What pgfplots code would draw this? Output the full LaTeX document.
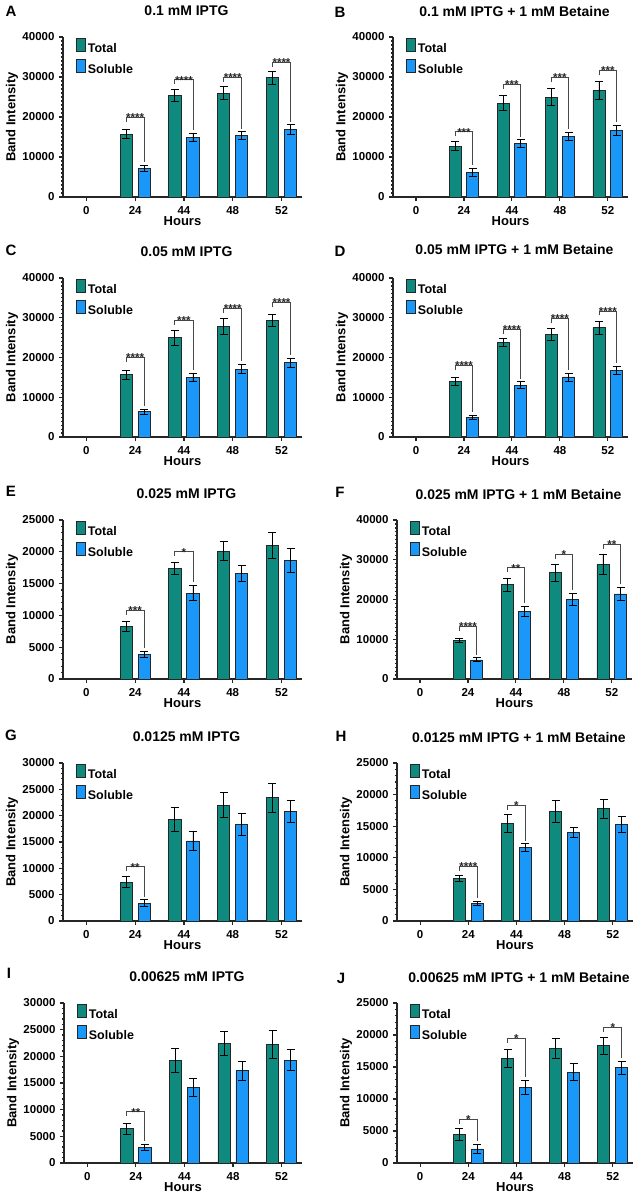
\documentclass[border=0pt]{standalone}
\usepackage{fontspec}
\setmainfont{Liberation Sans}
\usepackage{pgfplots}
\usepackage{pgfplotstable}
\pgfplotsset{compat=1.18}
\definecolor{cT}{RGB}{15,138,126}
\definecolor{cS}{RGB}{26,152,250}

\pgfplotsset{
 panel/.style={
  scale only axis, anchor=south west, clip=false,
  xmin=-0.48, xmax=4.42, ymin=0,
  axis lines=left,
  axis line style={-, line width=1.1pt, black!85},
  tick style={line width=1.1pt, black!85},
  tick align=outside, major tick length=4pt, minor tick length=2.2pt,
  xtick={0,1,2,3,4}, xticklabels={0,24,44,48,52},
  scaled y ticks=false,
  /pgf/number format/1000 sep={},
  /pgf/number format/assume math mode=true,
  ticklabel style={font=\fontsize{11.5}{12}\selectfont\bfseries},
  xticklabel shift=2pt, yticklabel shift=1pt,
  xlabel={Hours}, ylabel={Band Intensity},
  label style={font=\fontsize{13}{14}\selectfont\bfseries},
  xlabel style={at={([yshift=-24pt]axis description cs:0.5,0)}, anchor=center},
  ylabel style={at={([xshift=-51pt]axis description cs:0,0.5)}, anchor=center},
  title style={at={([xshift=4pt,yshift=20pt]axis description cs:0.5,1)}, anchor=center, font=\fontsize{14}{15}\selectfont\bfseries},
  legend style={at={([xshift=13pt,yshift=-1pt]axis description cs:0,1)}, anchor=north west,
    draw=none, fill=none, inner sep=0pt, row sep=3pt,
    font=\fontsize{12.5}{12.5}\selectfont\bfseries,
    nodes={inner sep=1.8pt}},
  legend cell align=left,
 },
 leg/.style={legend image code/.code={\draw[##1,draw=black!85,line width=0.8pt] (0pt,-2.3pt) rectangle (9pt,10.3pt);}},
 errs/.style={error bars/.cd, y dir=both, y explicit,
   error bar style={line width=0.9pt,black},
   error mark options={rotate=90,mark size=4pt,line width=0.9pt,black}},
 y40/.style={ymax=40000, ytick={0,10000,...,40000}, minor y tick num=9},
 y30/.style={ymax=30000, ytick={0,5000,...,30000}, minor y tick num=4},
 y25/.style={ymax=25000, ytick={0,5000,...,25000}, minor y tick num=4},
}

% bars: Total drawn at column xT, Soluble at column xS (category index -/+ 0.185)
\newcommand{\bars}[1]{%
 \addplot[ybar, bar width=0.25, bar shift=0pt, fill=cT, draw=black!85, line width=0.8pt, leg, errs] table[x=xT,y=T,y error=Te]{#1};
 \addlegendentry{Total}
 \addplot[ybar, bar width=0.25, bar shift=0pt, fill=cS, draw=black!85, line width=0.8pt, leg, errs] table[x=xS,y=S,y error=Se]{#1};
 \addlegendentry{Soluble}
}
% #1 left x, #2 right x, #3 bracket height, #4 right leg end, #5 stars
\newcommand{\sig}[5]{%
 \draw[line width=0.9pt, black!72] ([yshift=-4.5pt]axis cs:#1,#3) -- (axis cs:#1,#3)
   -- node[midway, anchor=base, yshift=-4.3pt, inner sep=0pt, text=black!85, font=\fontsize{11.5}{11.5}\selectfont\bfseries] {#5}
   (axis cs:#2,#3) -- (axis cs:#2,#4);
}

\pgfplotstableread{
hours xT xS T Te S Se
24 0.815 1.185 15700 1100 7200 700
44 1.815 2.185 25300 1500 14900 1000
48 2.815 3.185 26000 1600 15400 900
52 3.815 4.185 29800 1600 16900 1150
}\tA
\pgfplotstableread{
hours xT xS T Te S Se
24 0.815 1.185 12750 1100 6200 1000
44 1.815 2.185 23500 1900 13300 1000
48 2.815 3.185 25000 2100 15150 1000
52 3.815 4.185 26700 2200 16700 1250
}\tB
\pgfplotstableread{
hours xT xS T Te S Se
24 0.815 1.185 15700 1150 6400 650
44 1.815 2.185 25000 1900 15000 1100
48 2.815 3.185 27900 2000 17100 1100
52 3.815 4.185 29300 1600 18700 1150
}\tC
\pgfplotstableread{
hours xT xS T Te S Se
24 0.815 1.185 14000 1100 4900 600
44 1.815 2.185 23700 1000 13000 900
48 2.815 3.185 25900 1500 15100 1000
52 3.815 4.185 27500 1600 16700 1000
}\tD
\pgfplotstableread{
hours xT xS T Te S Se
24 0.815 1.185 8300 800 3900 500
44 1.815 2.185 17400 1000 13500 1200
48 2.815 3.185 20100 1500 16600 1300
52 3.815 4.185 21000 2100 18600 1900
}\tE
\pgfplotstableread{
hours xT xS T Te S Se
24 0.815 1.185 9700 600 4800 500
44 1.815 2.185 23700 1700 17000 1200
48 2.815 3.185 26700 2200 20100 1500
52 3.815 4.185 28800 2600 21400 1600
}\tF
\pgfplotstableread{
hours xT xS T Te S Se
24 0.815 1.185 7400 1000 3400 600
44 1.815 2.185 19300 2300 15200 1800
48 2.815 3.185 22000 2400 18300 2100
52 3.815 4.185 23400 2800 20800 2000
}\tG
\pgfplotstableread{
hours xT xS T Te S Se
24 0.815 1.185 6700 500 2800 300
44 1.815 2.185 15400 1400 11600 600
48 2.815 3.185 17300 1700 14000 800
52 3.815 4.185 17800 1500 15300 1300
}\tH
\pgfplotstableread{
hours xT xS T Te S Se
24 0.815 1.185 6400 1100 2900 600
44 1.815 2.185 19200 2300 14200 1700
48 2.815 3.185 22400 2200 17300 1800
52 3.815 4.185 22200 2600 19300 1900
}\tI
\pgfplotstableread{
hours xT xS T Te S Se
24 0.815 1.185 4500 900 2200 700
44 1.815 2.185 16400 1400 11800 1100
48 2.815 3.185 17900 1500 14200 1300
52 3.815 4.185 18300 1300 14900 1000
}\tJ

\begin{document}
\begin{tikzpicture}
\path[use as bounding box] (0pt,0pt) rectangle (640pt,-1199pt);
\tikzset{letter/.style={font=\fontsize{15}{15}\selectfont\bfseries, inner sep=0pt}}
\node[letter] at (11pt,-11pt) {A};
\node[letter] at (340pt,-12pt) {B};
\node[letter] at (11pt,-250pt) {C};
\node[letter] at (340pt,-251pt) {D};
\node[letter] at (11pt,-491pt) {E};
\node[letter] at (340pt,-492pt) {F};
\node[letter] at (11pt,-735pt) {G};
\node[letter] at (341pt,-736pt) {H};
\node[letter] at (9pt,-973pt) {I};
\node[letter] at (341pt,-978pt) {J};

% A
\begin{axis}[panel, y40, at={(63pt,-197pt)}, width=239pt, height=160pt, title={0.1 mM IPTG}]
\bars{\tA}
\sig{0.815}{1.185}{20000}{8700}{****}
\sig{1.815}{2.185}{29300}{16700}{****}
\sig{2.815}{3.185}{30000}{17100}{****}
\sig{3.815}{4.185}{33700}{18850}{****}
\end{axis}
% B
\begin{axis}[panel, y40, at={(393pt,-197pt)}, width=235pt, height=160pt, title={0.1 mM IPTG + 1 mM Betaine}]
\bars{\tB}
\sig{0.815}{1.185}{16300}{8000}{***}
\sig{1.815}{2.185}{28200}{15100}{***}
\sig{2.815}{3.185}{30000}{16950}{***}
\sig{3.815}{4.185}{31600}{18750}{***}
\end{axis}
% C
\begin{axis}[panel, y40, at={(63pt,-437pt)}, width=239pt, height=159pt, title={0.05 mM IPTG}]
\bars{\tC}
\sig{0.815}{1.185}{20000}{7850}{****}
\sig{1.815}{2.185}{29400}{16900}{***}
\sig{2.815}{3.185}{32300}{19000}{****}
\sig{3.815}{4.185}{33800}{20650}{****}
\end{axis}
% D
\begin{axis}[panel, y40, at={(393pt,-437pt)}, width=235pt, height=159pt, title={0.05 mM IPTG + 1 mM Betaine}, title style={at={([xshift=4pt,yshift=23pt]axis description cs:0.5,1)}}]
\bars{\tD}
\sig{0.815}{1.185}{18000}{6300}{****}
\sig{1.815}{2.185}{27000}{14700}{****}
\sig{2.815}{3.185}{29800}{16900}{****}
\sig{3.815}{4.185}{31700}{18500}{****}
\end{axis}
% E
\begin{axis}[panel, y25, at={(63pt,-679pt)}, width=239pt, height=159pt, title={0.025 mM IPTG}]
\bars{\tE}
\sig{0.815}{1.185}{10800}{4900}{***}
\sig{1.815}{2.185}{20000}{15200}{*}
\end{axis}
% F
\begin{axis}[panel, y40, at={(397pt,-679pt)}, width=235pt, height=159pt, title={0.025 mM IPTG + 1 mM Betaine}]
\bars{\tF}
\sig{0.815}{1.185}{13300}{6100}{****}
\sig{1.815}{2.185}{28000}{19000}{**}
\sig{2.815}{3.185}{31300}{22400}{*}
\sig{3.815}{4.185}{33900}{23800}{**}
\end{axis}
% G
\begin{axis}[panel, y30, at={(63pt,-921pt)}, width=239pt, height=158pt, title={0.0125 mM IPTG}]
\bars{\tG}
\sig{0.815}{1.185}{10300}{4600}{**}
\end{axis}
% H
\begin{axis}[panel, y25, at={(397pt,-921pt)}, width=236pt, height=158pt, title={0.0125 mM IPTG + 1 mM Betaine}]
\bars{\tH}
\sig{0.815}{1.185}{8700}{3600}{****}
\sig{1.815}{2.185}{18300}{12700}{*}
\end{axis}
% I
\begin{axis}[panel, y30, at={(64pt,-1163pt)}, width=238pt, height=160pt, title={0.00625 mM IPTG}]
\bars{\tI}
\sig{0.815}{1.185}{9600}{4100}{**}
\end{axis}
% J
\begin{axis}[panel, y25, at={(397pt,-1163pt)}, width=236pt, height=160pt, title={0.00625 mM IPTG + 1 mM Betaine}]
\bars{\tJ}
\sig{0.815}{1.185}{6800}{3400}{*}
\sig{1.815}{2.185}{19500}{13400}{*}
\sig{3.815}{4.185}{21200}{16400}{*}
\end{axis}
\end{tikzpicture}
\end{document}
